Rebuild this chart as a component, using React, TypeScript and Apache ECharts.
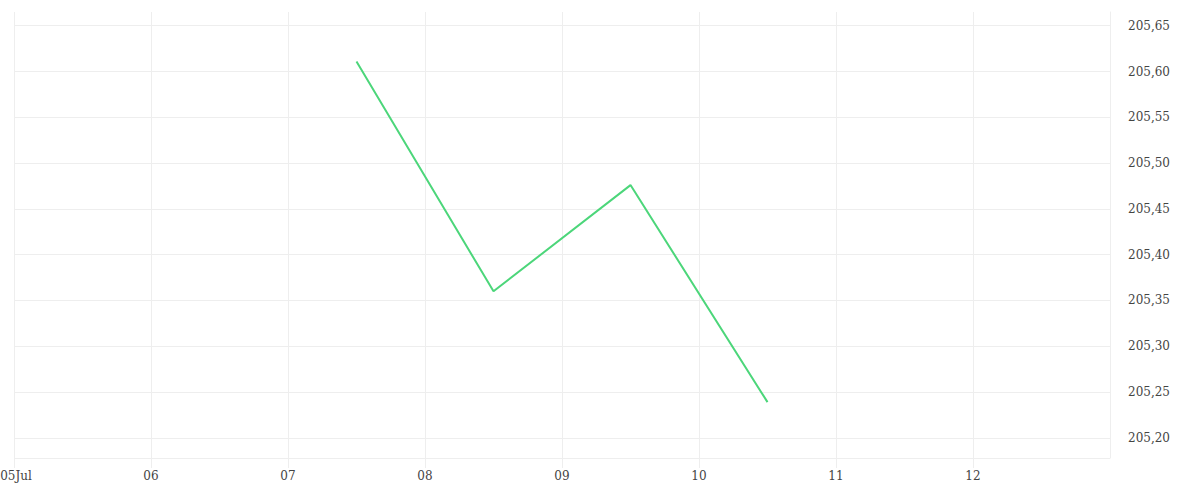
import React, { useEffect, useRef } from "react";
import * as echarts from "echarts";

const DAY = 86400000;
const startDate = new Date(2024, 6, 5).getTime();
const endDate = new Date(2024, 6, 13).getTime();
const pointDates = [
  new Date(2024, 6, 7, 12).getTime(),
  new Date(2024, 6, 8, 12).getTime(),
  new Date(2024, 6, 9, 12).getTime(),
  new Date(2024, 6, 10, 12).getTime(),
];
const pointValues = [205.611, 205.36, 205.476, 205.239];
const yMin = 205.178;
const yMax = 205.665;
const monthNames = ["Jan", "Feb", "Mar", "Apr", "May", "Jun", "Jul", "Aug", "Sep", "Oct", "Nov", "Dec"];

const FONT = "'DejaVu Serif', serif";

export default function App() {
  const ref = useRef<HTMLDivElement>(null);
  useEffect(() => {
    document.body.style.margin = "0";
    const chart = echarts.init(ref.current!, null, { renderer: "svg" });
    const gridColor = "#eeeeee";
    chart.setOption({
      animation: false,
      backgroundColor: "#ffffff",
      grid: { left: 14, right: 90, top: 12, bottom: 42, containLabel: false, outerBoundsMode: "none" },
      xAxis: {
        type: "time",
        min: startDate,
        max: endDate,
        minInterval: DAY,
        maxInterval: DAY,
        axisLine: { show: false },
        axisTick: { show: true, length: 10, lineStyle: { color: gridColor } },
        splitLine: { show: true, lineStyle: { color: gridColor } },
        axisLabel: {
          showMaxLabel: false,
          color: "#444",
          fontFamily: FONT,
          fontSize: 12,
          margin: 12,
          rich: {
            first: { color: "#444", fontFamily: FONT, fontSize: 12, padding: [0, 0, 0, 4] },
          },
          formatter: (val: number) => {
            const d = new Date(val);
            const dd = String(d.getDate()).padStart(2, "0");
            return val === startDate ? "{first|" + dd + monthNames[d.getMonth()] + "}" : dd;
          },
        },
      },
      yAxis: {
        type: "value",
        position: "right",
        min: yMin,
        max: yMax,
        splitNumber: 10,
        axisLine: { show: true, lineStyle: { color: gridColor } },
        axisTick: { show: false },
        splitLine: { show: true, showMaxLine: false, lineStyle: { color: gridColor } },
        axisLabel: {
          showMinLabel: false,
          showMaxLabel: false,
          color: "#444",
          fontFamily: FONT,
          fontSize: 12,
          margin: 18,
          formatter: (v: number) => v.toFixed(2).replace(".", ","),
        },
      },
      series: [
        {
          type: "line",
          data: pointDates.map((d, i) => [d, pointValues[i]]),
          showSymbol: false,
          symbol: "none",
          lineStyle: { color: "#4cd67a", width: 2 },
        },
      ],
    });
    return () => chart.dispose();
  }, []);
  return <div ref={ref} style={{ width: 1200, height: 500 }} />;
}
